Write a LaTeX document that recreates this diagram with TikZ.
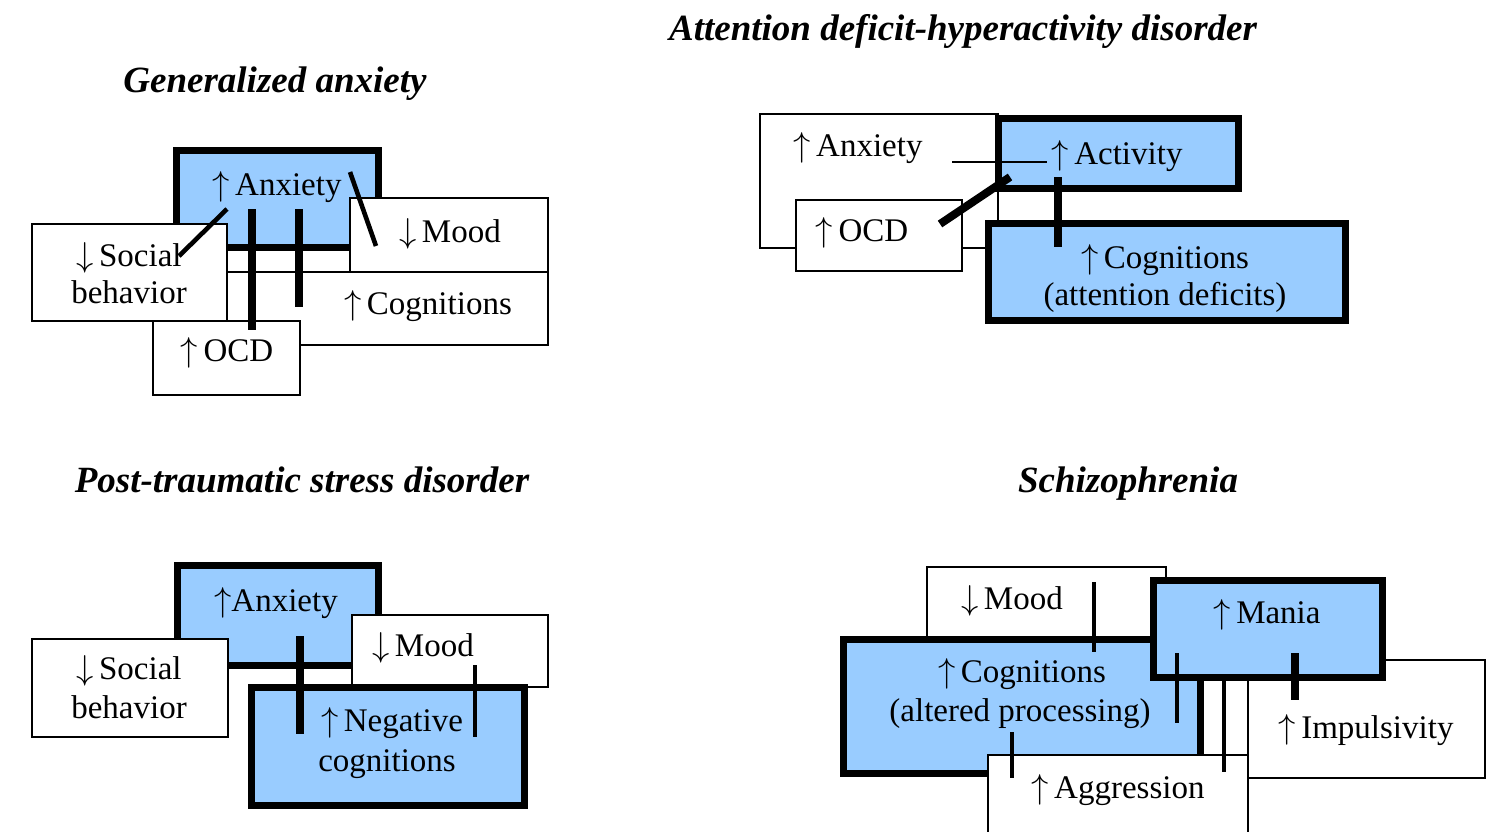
\documentclass[tikz,border=0pt]{standalone}
\usepackage{fontspec}
\setmainfont{Liberation Serif}
\definecolor{boxblue}{RGB}{153,204,255}
\newcommand{\upar}{$\uparrow$}
\newcommand{\dnar}{$\downarrow$}

\begin{document}
\begin{tikzpicture}[x=0.5pt, y=-0.5pt,
  wbox/.style={draw=black, fill=white, line width=0.9pt},
  bbox/.style={draw=black, fill=boxblue, line width=3.5pt},
  lbl/.style={font=\fontsize{16.5}{18.5}\selectfont, anchor=base, inner sep=0pt},
  ttl/.style={font=\fontsize{18.5}{22}\selectfont\bfseries\itshape, anchor=base, inner sep=0pt},
  lnkthin/.style={line width=1pt},
  lnkmed/.style={line width=2.3pt},
  lnkthick/.style={line width=3.6pt}]
  \useasboundingbox (0,0) rectangle (1487,831);
  \clip (0,0) rectangle (1487,831);

  % Generalized anxiety
  \node[ttl] (ga-title) at (275,92) {Generalized anxiety};
  \draw[bbox] (176,150) rectangle (378,247);
  \draw[wbox] (190,272) rectangle (548,345);
  \draw[wbox] (350,198) rectangle (548,272);
  \draw[wbox] (32,224) rectangle (227,321);
  \draw[wbox] (153,321) rectangle (300,395);
  \node[lbl] (ga-anx) at (277,195) {\upar\,Anxiety};
  \node[lbl] (ga-mood) at (450,242) {\dnar\,Mood};
  \node[lbl] (ga-soc) at (129,266) {\dnar\,Social};
  \node[lbl] (ga-soc2) at (129,303) {behavior};
  \node[lbl] (ga-cog) at (428,314) {\upar\,Cognitions};
  \node[lbl] (ga-ocd) at (227,361) {\upar\,OCD};
  \coordinate (ga-a1) at (227,209);
  \coordinate (ga-s1) at (179,256);
  \coordinate (ga-a2) at (350,172);
  \coordinate (ga-m1) at (376,246);
  \coordinate (ga-a3) at (252,209);
  \coordinate (ga-o1) at (252,330);
  \coordinate (ga-a4) at (299,209);
  \coordinate (ga-c1) at (299,307);
  \draw[lnkmed] (ga-a1) -- (ga-s1);
  \draw[lnkmed] (ga-a2) -- (ga-m1);
  \draw[lnkthick] (ga-a3) -- (ga-o1);
  \draw[lnkthick] (ga-a4) -- (ga-c1);

  % ADHD
  \node[ttl] (ad-title) at (963,40) {Attention deficit-hyperactivity disorder};
  \draw[wbox] (760,114) rectangle (998,248);
  \draw[wbox] (796,200) rectangle (962,271);
  \draw[bbox] (998,118) rectangle (1238,188);
  \draw[bbox] (988,223) rectangle (1345,320);
  \node[lbl] (ad-anx) at (858,156) {\upar\,Anxiety};
  \node[lbl] (ad-act) at (1117,164) {\upar\,Activity};
  \node[lbl] (ad-ocd) at (862,241) {\upar\,OCD};
  \node[lbl] (ad-cog) at (1165,268) {\upar\,Cognitions};
  \node[lbl] (ad-cog2) at (1165,305) {(attention deficits)};
  \coordinate (ad-n1) at (952,162);
  \coordinate (ad-t1) at (1047,162);
  \coordinate (ad-o1) at (940,224);
  \coordinate (ad-t2) at (1010,177);
  \coordinate (ad-t3) at (1058,177);
  \coordinate (ad-c1) at (1058,247);
  \draw[lnkthin] (ad-n1) -- (ad-t1);
  \draw[line width=4pt] (ad-o1) -- (ad-t2);
  \draw[lnkthick] (ad-t3) -- (ad-c1);

  % Post-traumatic stress disorder
  \node[ttl] (pt-title) at (302,492) {Post-traumatic stress disorder};
  \draw[bbox] (177,565) rectangle (378,665);
  \draw[wbox] (32,639) rectangle (228,737);
  \draw[wbox] (352,615) rectangle (548,687);
  \draw[bbox] (251,687) rectangle (524,805);
  \node[lbl] (pt-anx) at (276,611) {\upar Anxiety};
  \node[lbl] (pt-soc) at (129,679) {\dnar\,Social};
  \node[lbl] (pt-soc2) at (129,718) {behavior};
  \node[lbl] (pt-mood) at (423,656) {\dnar\,Mood};
  \node[lbl] (pt-neg) at (392,731) {\upar\,Negative};
  \node[lbl] (pt-neg2) at (387,771) {cognitions};
  \coordinate (pt-a1) at (300,636);
  \coordinate (pt-n1) at (300,734);
  \coordinate (pt-m1) at (475,665);
  \coordinate (pt-n2) at (475,737);
  \draw[lnkthick] (pt-a1) -- (pt-n1);
  \draw[lnkmed] (pt-m1) -- (pt-n2);

  % Schizophrenia
  \node[ttl] (sz-title) at (1128,492) {Schizophrenia};
  \draw[wbox] (927,567) rectangle (1166,645);
  \draw[bbox] (843,639) rectangle (1200,773);
  \draw[wbox] (1248,660) rectangle (1485,778);
  \draw[wbox] (988,755) rectangle (1248,850);
  \draw[bbox] (1153,580) rectangle (1382,677);
  \node[lbl] (sz-mood) at (1012,609) {\dnar\,Mood};
  \node[lbl] (sz-cog) at (1022,682) {\upar\,Cognitions};
  \node[lbl] (sz-cog2) at (1020,721) {(altered processing)};
  \node[lbl] (sz-man) at (1267,623) {\upar\,Mania};
  \node[lbl] (sz-imp) at (1366,738) {\upar\,Impulsivity};
  \node[lbl] (sz-agg) at (1118,798) {\upar\,Aggression};
  \coordinate (sz-m1) at (1094,582);
  \coordinate (sz-c1) at (1094,652);
  \coordinate (sz-n1) at (1177,653);
  \coordinate (sz-c2) at (1177,723);
  \coordinate (sz-n2) at (1224,677);
  \coordinate (sz-g1) at (1224,772);
  \coordinate (sz-n3) at (1295,653);
  \coordinate (sz-i1) at (1295,700);
  \coordinate (sz-c3) at (1012,732);
  \coordinate (sz-g2) at (1012,778);
  \draw[lnkmed] (sz-m1) -- (sz-c1);
  \draw[lnkmed] (sz-n1) -- (sz-c2);
  \draw[line width=2pt] (sz-n2) -- (sz-g1);
  \draw[lnkthick] (sz-n3) -- (sz-i1);
  \draw[lnkmed] (sz-c3) -- (sz-g2);
\end{tikzpicture}
\end{document}
